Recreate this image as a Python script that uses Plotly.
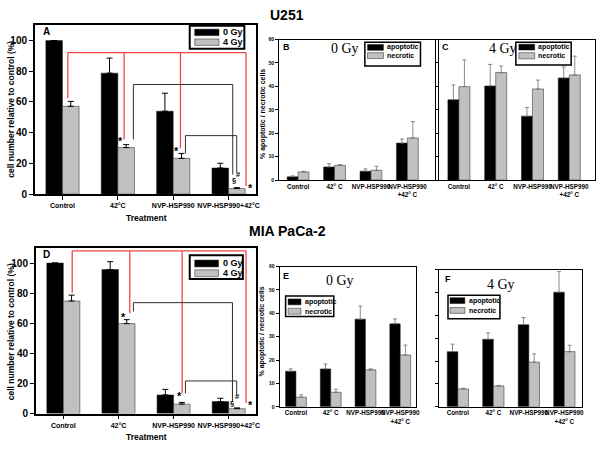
import plotly.graph_objects as go

# ---------------- data ----------------
positions = [0, 1, 2, 3]
labels_AD = ["Control", "42°C", "NVP-HSP990", "NVP-HSP990+42°C"]
labels_BC = ["Control", "42° C", "NVP-HSP990", "NVP-HSP990<br>+42° C"]

# U251 cell number (A)
A_0gy = [100, 78.8, 54.0, 17.0]
A_0gy_err = [0, 9.8, 11.7, 3.1]
A_4gy = [57.2, 30.3, 23.3, 3.6]
A_4gy_err = [3.2, 1.9, 3.2, 0.6]

# U251 apoptosis/necrosis 0 Gy (B) and 4 Gy (C)
B_apop = [1.4, 5.6, 3.8, 15.8]
B_apop_err = [0.4, 1.4, 1.0, 1.7]
B_necr = [3.5, 6.3, 4.2, 18.0]
B_necr_err = [0.3, 0.3, 1.7, 7.0]
C_apop = [34.3, 40.2, 27.3, 43.6]
C_apop_err = [6.3, 9.2, 3.7, 4.7]
C_necr = [39.9, 45.9, 38.9, 44.9]
C_necr_err = [11.4, 2.8, 3.8, 8.0]

# MIA PaCa-2 cell number (D)
D_0gy = [100, 95.7, 12.4, 8.0]
D_0gy_err = [0, 5.2, 3.7, 2.2]
D_4gy = [74.8, 59.8, 6.3, 3.3]
D_4gy_err = [3.9, 2.6, 1.1, 0.5]

# MIA PaCa-2 apoptosis/necrosis 0 Gy (E) and 4 Gy (F)
E_apop = [15.2, 16.2, 37.5, 35.5]
E_apop_err = [1.0, 2.1, 5.6, 2.1]
E_necr = [4.1, 6.2, 15.8, 22.2]
E_necr_err = [1.0, 1.3, 0.4, 4.2]
F_apop = [24.1, 29.5, 35.9, 50.1]
F_apop_err = [3.3, 2.8, 3.1, 9.0]
F_necr = [7.8, 9.1, 19.5, 24.1]
F_necr_err = [0.3, 0.2, 3.6, 2.8]

# significance brackets (x in category units, y in %)
A_red_x = [0.097, 1.114, 2.131, 3.315]
A_red_top = 92.2
A_red_bottom = [62.5, 35.6, 29.9, 5.3]
A_blk1_x = [1.281, 3.075]
A_blk1_top = 71.4
A_blk1_bottom = [35.6, 12.7]
A_blk2_x = [2.221, 3.147]
A_blk2_top = 38.1
A_blk2_bottom = [26.5, 13.8]
A_marks = ["*", "*", "§", "#", "*"]
A_marks_x = [1.043, 2.06, 3.105, 3.175, 3.398]
A_marks_y = [35.6, 29.2, 9.0, 12.6, 5.3]

D_red_x = [0.161, 1.206, 2.155, 3.314]
D_red_top = 108.1
D_red_bottom = [80.2, 66.7, 13.5, 7.0]
D_blk1_x = [1.271, 3.068]
D_blk1_top = 73.7
D_blk1_bottom = [67.8, 8.0]
D_blk2_x = [2.215, 3.145]
D_blk2_top = 21.7
D_blk2_bottom = [13.5, 12.4]
D_marks = ["*", "*", "§", "#", "*"]
D_marks_x = [1.091, 2.113, 3.055, 3.163, 3.397]
D_marks_y = [65.7, 13.0, 7.0, 11.7, 7.0]

# ---------------- styling ----------------
W, H = 600, 450
SANS = "Liberation Sans, Arial, sans-serif"
SERIF = "Liberation Serif, Times New Roman, serif"
BLACK = "#000000"
GREY = "#c0c0c0"
RED = "#f04848"


def px(x):
    return x / W


def py(y):
    return 1 - y / H


panels = {
    "A": dict(n=1, x=(35, 258), y=(22.7, 195), xr=(-0.5, 3.5), yr=(0, 110), big=True, ylab=True),
    "B": dict(n=2, x=(281, 438), y=(37.3, 180.7), xr=(-0.52, 3.76), yr=(0, 60), big=False, ylab=True),
    "C": dict(n=3, x=(442, 599), y=(37.3, 180.7), xr=(-0.54, 3.7), yr=(0, 60), big=False, ylab=False),
    "D": dict(n=4, x=(36, 258), y=(250, 419), xr=(-0.5, 3.5), yr=(0, 110), big=True, ylab=True),
    "E": dict(n=5, x=(281.5, 419), y=(269, 412), xr=(-0.47, 3.46), yr=(0, 60), big=False, ylab=True),
    "F": dict(n=6, x=(442, 586), y=(272, 412), xr=(-0.53, 3.5), yr=(0, 60), big=False, ylab=False),
}

series = {
    "A": (A_0gy, A_0gy_err, A_4gy, A_4gy_err),
    "B": (B_apop, B_apop_err, B_necr, B_necr_err),
    "C": (C_apop, C_apop_err, C_necr, C_necr_err),
    "D": (D_0gy, D_0gy_err, D_4gy, D_4gy_err),
    "E": (E_apop, E_apop_err, E_necr, E_necr_err),
    "F": (F_apop, F_apop_err, F_necr, F_necr_err),
}

fig = go.Figure()
layout = {}

for key, p in panels.items():
    n = p["n"]
    sfx = "" if n == 1 else str(n)
    xid, yid = "x" + sfx, "y" + sfx
    big = p["big"]
    v0, e0, v1, e1 = series[key]
    ecol = BLACK if big else "#6e6e6e"
    for vals, errs, col, off in ((v0, e0, BLACK, -0.3), (v1, e1, GREY, 0.0)):
        fig.add_trace(go.Bar(
            x=positions, y=vals, offset=off, width=0.3,
            marker=dict(color=col, line=dict(color="#202020", width=0.5)),
            error_y=dict(type="data", array=errs, arrayminus=[0] * len(errs), symmetric=False,
                         color=ecol, thickness=1 if big else 0.8, width=3 if big else 2),
            xaxis=xid, yaxis=yid, showlegend=False, hoverinfo="x+y",
        ))
    layout["xaxis" + sfx] = dict(
        domain=[px(p["x"][0]), px(p["x"][1])], range=list(p["xr"]), anchor=yid,
        showline=True, mirror=True, linecolor="black", linewidth=1.5 if big else 1,
        tickmode="array", tickvals=positions,
        ticktext=labels_AD if big else labels_BC,
        ticks="outside" if big else "", ticklen=4, tickcolor="black",
        tickangle=0, showgrid=False, zeroline=False, fixedrange=True,
        tickfont=dict(family=SANS, size=7 if big else 6.3, color="black", weight="bold"),
    )
    layout["yaxis" + sfx] = dict(
        domain=[py(p["y"][1]), py(p["y"][0])], range=list(p["yr"]), anchor=xid,
        showline=True, mirror=True, linecolor="black", linewidth=1.5 if big else 1,
        tickmode="linear", tick0=0, dtick=20 if big else 10,
        ticks="outside", ticklen=4 if big else 3, tickcolor="black",
        showticklabels=p["ylab"], showgrid=False, zeroline=False, fixedrange=True,
        tickfont=dict(family=SANS, size=10 if big else 5, color="black", weight="bold"),
    )


def bracket_traces(xid, yid, xs, top, bottoms, color, width):
    bx, by = [xs[0], xs[-1], None], [top, top, None]
    for x, b in zip(xs, bottoms):
        bx += [x, x, None]
        by += [top, b, None]
    fig.add_trace(go.Scatter(x=bx, y=by, mode="lines", line=dict(color=color, width=width),
                             xaxis=xid, yaxis=yid, showlegend=False, hoverinfo="skip",
                             cliponaxis=False))


bracket_traces("x", "y", A_red_x, A_red_top, A_red_bottom, RED, 1.3)
bracket_traces("x", "y", A_blk1_x, A_blk1_top, A_blk1_bottom, "#303030", 1)
bracket_traces("x", "y", A_blk2_x, A_blk2_top, A_blk2_bottom, "#303030", 1)
bracket_traces("x4", "y4", D_red_x, D_red_top, D_red_bottom, RED, 1.3)
bracket_traces("x4", "y4", D_blk1_x, D_blk1_top, D_blk1_bottom, "#303030", 1)
bracket_traces("x4", "y4", D_blk2_x, D_blk2_top, D_blk2_bottom, "#303030", 1)

annotations = []
shapes = []

for xid, yid, marks, mx, my in (("x", "y", A_marks, A_marks_x, A_marks_y),
                                 ("x4", "y4", D_marks, D_marks_x, D_marks_y)):
    for m, x, y in zip(marks, mx, my):
        annotations.append(dict(x=x, y=y, xref=xid, yref=yid, text=m, showarrow=False,
                                font=dict(family=SANS, size=11 if m == "*" else 7.5,
                                          color="black", weight="bold"),
                                yshift=-2 if m == "*" else 0))


def ptext(x, y, text, size, family=SANS, bold=True, angle=0, xanchor="center"):
    annotations.append(dict(x=px(x), y=py(y), xref="paper", yref="paper", text=text,
                            showarrow=False, textangle=angle, xanchor=xanchor, yanchor="middle",
                            font=dict(family=family, size=size, color="black",
                                      weight="bold" if bold else "normal")))


# titles
ptext(289, 12.5, "U251", 14)
ptext(289, 232.5, "MIA PaCa-2", 14)
# panel letters
for letter, x, y, s in (("A", 47, 29, 10), ("B", 288, 45, 9), ("C", 448, 45, 9),
                        ("D", 47, 257, 10), ("E", 288, 279, 9), ("F", 451, 282, 9)):
    ptext(x, y, letter, s)
# axis titles
ptext(11, 108, "cell number relative to control (%)", 8.5, angle=-90)
ptext(11, 335, "cell number relative to control (%)", 8.5, angle=-90)
ptext(147, 219, "Treatment", 8.5)
ptext(147, 443, "Treatment", 8.5)
ptext(264, 113, "% apoptotic / necrotic cells", 7, angle=-90)
ptext(264, 335, "% apoptotic / necrotic cells", 7, angle=-90)
# dose labels
ptext(347, 46, "0 Gy", 14, family=SERIF, bold=False)
ptext(506, 46, "4 Gy", 14, family=SERIF, bold=False)
ptext(342, 283, "0 Gy", 14, family=SERIF, bold=False)
ptext(504, 287, "4 Gy", 14, family=SERIF, bold=False)


def legend(box, bw, swx, rows, tx, size):
    x0, y0, x1, y1 = box
    shapes.append(dict(type="rect", xref="paper", yref="paper", x0=px(x0), x1=px(x1),
                       y0=py(y1), y1=py(y0), line=dict(color="black", width=bw),
                       fillcolor="white", layer="above"))
    for (sy0, sy1, col, text) in rows:
        shapes.append(dict(type="rect", xref="paper", yref="paper", x0=px(swx[0]), x1=px(swx[1]),
                           y0=py(sy1), y1=py(sy0), line=dict(color="#202020", width=0.5),
                           fillcolor=col, layer="above"))
        ptext(tx, (sy0 + sy1) / 2, text, size, xanchor="left")


legend((191, 23.3, 246, 46.7), 2, (196, 220.5), [(26.7, 33.3, BLACK, "0 Gy"), (36.7, 43.3, GREY, "4 Gy")], 222, 9)
legend((191, 257.3, 244.5, 281.7), 2, (196, 220), [(262.3, 269.3, BLACK, "0 Gy"), (272.3, 279.3, GREY, "4 Gy")], 222, 9)
legend((367.3, 40, 423.3, 64.3), 1.5, (370, 386), [(42.3, 48.3, BLACK, "apoptotic"), (50.7, 56.7, GREY, "necrotic")], 388, 7)
legend((519.3, 40, 575, 63.3), 1.5, (522.3, 538.3), [(42, 48, BLACK, "apoptotic"), (50.7, 57, GREY, "necrotic")], 540, 7)
legend((287.5, 299, 336, 320), 1.5, (290, 303), [(302, 308, BLACK, "apoptotic"), (311.5, 317.5, GREY, "necrotic")], 305, 7)
legend((451, 298.3, 503.3, 322.3), 1.5, (453, 468), [(300.7, 306.7, BLACK, "apoptotic"), (310.7, 316.7, GREY, "necrotic")], 470.5, 7)

fig.update_layout(
    width=W, height=H, margin=dict(l=0, r=0, t=0, b=0),
    paper_bgcolor="white", plot_bgcolor="white",
    barmode="overlay", showlegend=False,
    annotations=annotations, shapes=shapes,
    font=dict(family=SANS, color="black"),
    **layout,
)

fig.write_html("out.html", config={"displayModeBar": False},
               post_script="document.body.style.margin='0';document.body.style.overflow='hidden';")
